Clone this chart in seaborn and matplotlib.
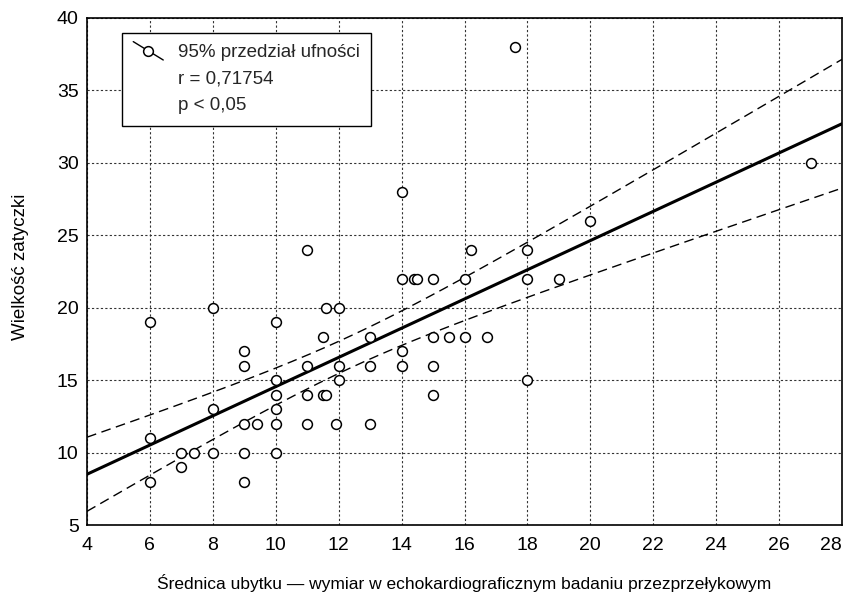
import numpy as np
import pandas as pd
import matplotlib
matplotlib.use("Agg")
import matplotlib.pyplot as plt
import seaborn as sns
from matplotlib.lines import Line2D
from matplotlib.legend_handler import HandlerLine2D

# ---- data ----
diameter = [6, 6, 6,
            7, 7, 7.4,
            8, 8, 8,
            9, 9, 9, 9, 9, 9.4,
            10, 10, 10, 10, 10, 10,
            11, 11, 11, 11,
            11.5, 11.6, 11.5, 11.6,
            12, 12, 12, 11.9,
            13, 13, 13,
            14, 14, 14, 14,
            14.4, 14.5,
            15, 15, 15, 15,
            15.5, 16.2, 16, 16, 16.7,
            17.6,
            18, 18, 18,
            19, 20, 27]
plug_size = [19, 11, 8,
             10, 9, 10,
             20, 13, 10,
             17, 16, 12, 10, 8, 12,
             19, 15, 14, 13, 12, 10,
             24, 16, 14, 12,
             18, 20, 14, 14,
             20, 16, 15, 12,
             18, 16, 12,
             28, 22, 17, 16,
             22, 22,
             22, 18, 16, 14,
             18, 24, 22, 18, 18,
             38,
             24, 22, 15,
             22, 26, 30]

x_ticks = [4, 6, 8, 10, 12, 14, 16, 18, 20, 22, 24, 26, 28]
y_ticks = [5, 10, 15, 20, 25, 30, 35, 40]
x_label = "Średnica ubytku — wymiar w echokardiograficznym badaniu przezprzełykowym"
y_label = "Wielkość zatyczki"
legend_lines = ["95% przedział ufności", "r = 0,71754", "p < 0,05"]

df = pd.DataFrame({"x": diameter, "y": plug_size})

sns.set_theme(style="white")
plt.rcParams["font.family"] = ["Liberation Sans", "DejaVu Sans"]

fig = plt.figure(figsize=(8.47, 5.93), dpi=100)
ax = fig.add_axes([87 / 847, (593 - 525) / 593, (842 - 87) / 847, (525 - 18) / 593])
ax.set_xlim(4, 28)
ax.set_ylim(5, 40)

ax.set_xticks(x_ticks)
ax.set_yticks(y_ticks)
ax.grid(True, color="#333333", linestyle=(0, (2, 2)), linewidth=0.8)
ax.set_axisbelow(True)

# regression line across the whole axis
sns.regplot(data=df, x="x", y="y", ax=ax, ci=None, truncate=False, scatter=False,
            line_kws=dict(color="black", linewidth=2.2))

# 95% confidence band of the mean
xs = np.linspace(4, 28, 200)
xa = np.asarray(diameter, float)
ya = np.asarray(plug_size, float)
n = len(xa)
b, a = np.polyfit(xa, ya, 1)
res = ya - (a + b * xa)
s = np.sqrt(np.sum(res ** 2) / (n - 2))
sxx = np.sum((xa - xa.mean()) ** 2)
se = s * np.sqrt(1.0 / n + (xs - xa.mean()) ** 2 / sxx)
tval = 2.003
band = pd.DataFrame({"x": xs, "lo": a + b * xs - tval * se, "hi": a + b * xs + tval * se})
sns.lineplot(data=band, x="x", y="hi", ax=ax, color="black", linewidth=1.0,
             linestyle=(0, (7, 4)))
sns.lineplot(data=band, x="x", y="lo", ax=ax, color="black", linewidth=1.0,
             linestyle=(0, (7, 4)))

sns.scatterplot(data=df, x="x", y="y", ax=ax, marker="o", s=50,
                facecolor="white", edgecolor="black", linewidth=1.1, zorder=5)

for sp in ax.spines.values():
    sp.set_color("black")
    sp.set_linewidth(1.2)
ax.tick_params(axis="x", length=0, pad=9, labelsize=14, colors="black")
ax.tick_params(axis="y", length=0, pad=6, labelsize=14, colors="black")
ax.get_xticklabels()[-1].set_horizontalalignment("right")
ax.set_xlabel(x_label, fontsize=12.5, labelpad=14, color="black")
ax.set_ylabel(y_label, fontsize=13.5, color="black")
ax.yaxis.set_label_coords(-0.077, 0.51)


class DiagHandler(HandlerLine2D):
    def create_artists(self, legend, orig_handle, xdescent, ydescent, width, height,
                       fontsize, trans):
        x0, x1 = -xdescent, -xdescent + width
        y0, y1 = -ydescent + height * 1.2, -ydescent - height * 0.2
        ln = Line2D([x0, x1], [y0, y1], color="black", linewidth=1.0, transform=trans)
        mk = Line2D([(x0 + x1) / 2], [(y0 + y1) / 2], marker="o", markersize=7,
                    markerfacecolor="white", markeredgecolor="black",
                    markeredgewidth=1.1, linestyle="none", transform=trans)
        return [ln, mk]


h0 = Line2D([], [], color="black", marker="o")
h1 = Line2D([], [], linestyle="none", marker=None)
h2 = Line2D([], [], linestyle="none", marker=None)
leg = ax.legend([h0, h1, h2], legend_lines, handler_map={h0: DiagHandler()},
                loc="upper left", bbox_to_anchor=((122 - 87) / 755, (525 - 33) / 507),
                borderaxespad=0, fontsize=13.5,
                frameon=True, fancybox=False, framealpha=1, edgecolor="black",
                borderpad=0.6, labelspacing=0.5, handlelength=1.6, handletextpad=0.8)
leg.get_frame().set_linewidth(1.0)
leg.set_zorder(10)

fig.savefig("out.png", dpi=100)
